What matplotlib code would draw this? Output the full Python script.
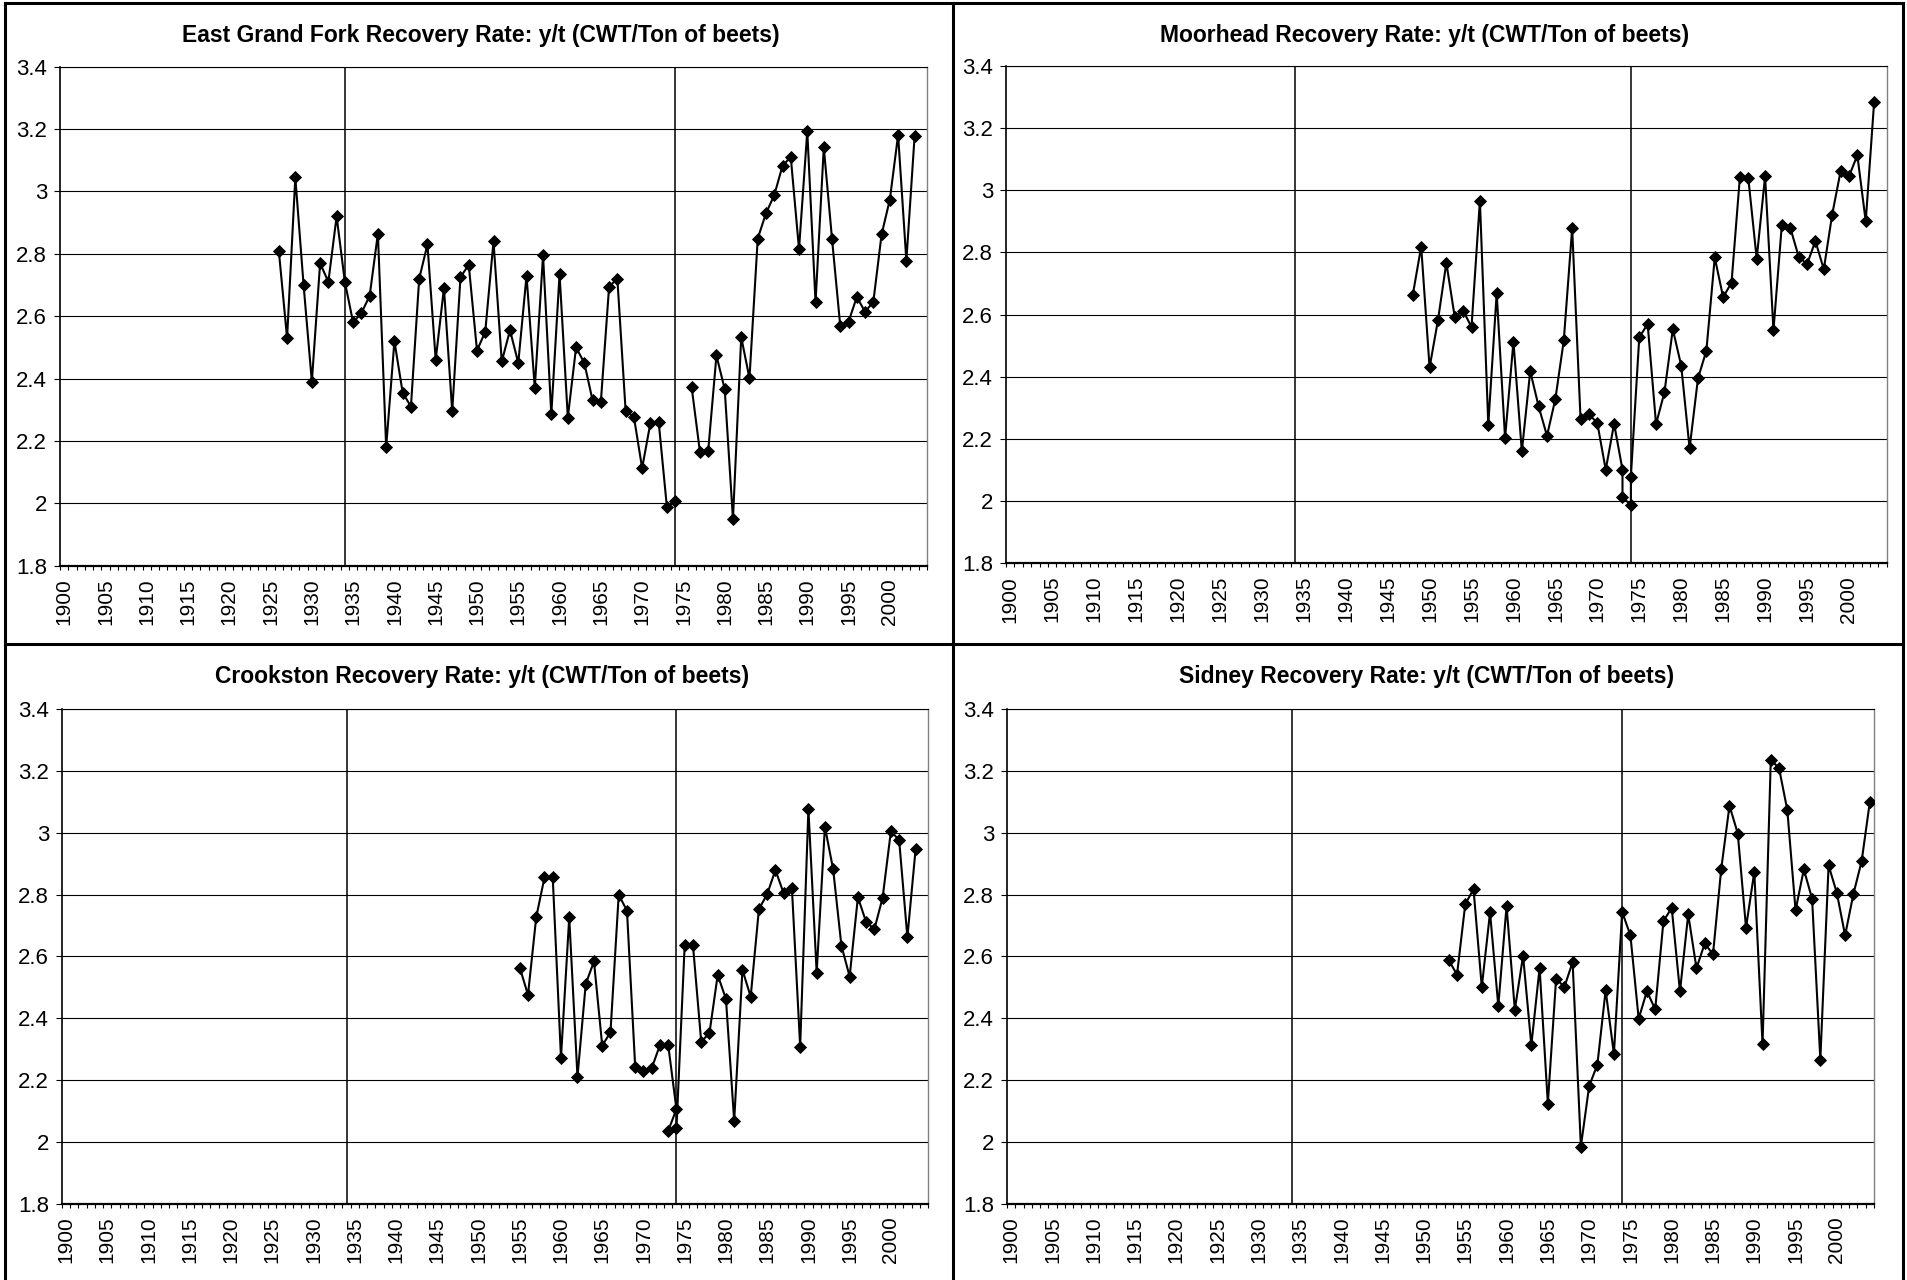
import matplotlib
matplotlib.use("Agg")
import matplotlib.pyplot as plt
from matplotlib.lines import Line2D
import numpy as np

plt.rcParams['font.family'] = ['Liberation Sans', 'DejaVu Sans']

W, H = 1907, 1280

# ---- data ----
titles = ["East Grand Fork Recovery Rate: y/t (CWT/Ton of beets)",
          "Moorhead Recovery Rate: y/t (CWT/Ton of beets)",
          "Crookston Recovery Rate: y/t (CWT/Ton of beets)",
          "Sidney Recovery Rate: y/t (CWT/Ton of beets)"]

y_ticks = [1.8, 2.0, 2.2, 2.4, 2.6, 2.8, 3.0, 3.2, 3.4]
y_tick_labels = ["1.8", "2", "2.2", "2.4", "2.6", "2.8", "3", "3.2", "3.4"]
x_label_years = list(range(1900, 2001, 5))
marker_years = [1934, 1974]

egf_years = list(range(1926, 2004))
egf_vals = [2.81, 2.53, 3.045, 2.70, 2.39, 2.77, 2.71, 2.92, 2.71, 2.58,
            2.61, 2.665, 2.865, 2.18, 2.52, 2.355, 2.31, 2.72, 2.83, 2.46,
            2.69, 2.295, 2.725, 2.765, 2.49, 2.55, 2.84, 2.455, 2.555, 2.45,
            2.73, 2.37, 2.795, 2.285, 2.735, 2.275, 2.50, 2.45, 2.33, 2.325,
            2.695, 2.72, 2.297, 2.278, 2.113, 2.257, 2.262, 1.988, 2.006, np.nan,
            2.372, 2.165, 2.168, 2.474, 2.366, 1.949, 2.533, 2.401, 2.849, 2.93,
            2.988, 3.082, 3.111, 2.815, 3.193, 2.644, 3.141, 2.847, 2.567, 2.582,
            2.662, 2.614, 2.646, 2.862, 2.974, 3.181, 2.778, 3.178]

mh_years = list(range(1948, 1973)) + [1973, 1973, 1974, 1974] + list(range(1975, 2004))
mh_vals = [2.664, 2.819, 2.43, 2.582, 2.767, 2.592, 2.613, 2.56, 2.967, 2.246,
           2.669, 2.203, 2.513, 2.16, 2.418, 2.305, 2.21, 2.329, 2.517, 2.878,
           2.264, 2.28, 2.251, 2.101, 2.249,
           2.101, 2.012, 1.988, 2.079,
           2.527, 2.57, 2.248, 2.35, 2.553, 2.436, 2.17, 2.395, 2.484, 2.784,
           2.656, 2.703, 3.044, 3.039, 2.78, 3.045, 2.55, 2.89, 2.88, 2.787,
           2.762, 2.837, 2.746, 2.922, 3.061, 3.045, 3.113, 2.90, 3.284]

crk_years = list(range(1955, 1973)) + [1973, 1974, 1973, 1974] + list(range(1975, 2004))
crk_vals = [2.564, 2.476, 2.727, 2.855, 2.855, 2.273, 2.726, 2.211, 2.511, 2.584,
            2.312, 2.355, 2.799, 2.748, 2.243, 2.23, 2.239, 2.314,
            2.314, 2.107, 2.037, 2.045,
            2.637, 2.637, 2.325, 2.352, 2.54, 2.463, 2.069, 2.557, 2.47, 2.753,
            2.801, 2.879, 2.804, 2.82, 2.309, 3.076, 2.548, 3.019, 2.881, 2.635,
            2.535, 2.791, 2.711, 2.688, 2.79, 3.004, 2.976, 2.662, 2.947]

sid_years = list(range(1953, 2005))
sid_vals = [2.588, 2.541, 2.769, 2.817, 2.501, 2.742, 2.44, 2.763, 2.428, 2.602,
            2.313, 2.563, 2.125, 2.528, 2.501, 2.582, 1.986, 2.181, 2.251, 2.491,
            2.285, 2.744, 2.668, 2.399, 2.488, 2.429, 2.714, 2.757, 2.487, 2.736,
            2.562, 2.642, 2.607, 2.883, 3.087, 2.997, 2.693, 2.873, 2.316, 3.235,
            3.208, 3.073, 2.749, 2.881, 2.787, 2.267, 2.894, 2.805, 2.668, 2.801,
            2.907, 3.10]

series = [(egf_years, egf_vals), (mh_years, mh_vals),
          (crk_years, crk_vals), (sid_years, sid_vals)]

# ---- layout (pixels, top-left origin) ----
plot_rects = [(60, 66.7, 927, 565.7),
              (1006, 66, 1886.7, 563.3),
              (62, 708.7, 928, 1204.2),
              (1007, 708.7, 1874, 1204.2)]
title_pos = [(481, 42), (1425, 42), (482, 683), (1427, 683)]


def frac_rect(l, t, r, b):
    return [l / W, 1 - b / H, (r - l) / W, (b - t) / H]


fig = plt.figure(figsize=(W / 100, H / 100), dpi=100)

for i in range(4):
    ax = fig.add_axes(frac_rect(*plot_rects[i]))
    yrs, vals = series[i]
    ax.plot(yrs, vals, color='black', lw=1.5, marker='D', ms=6.4,
            mfc='black', mec='black', mew=0.6, zorder=5)
    for xv in marker_years:
        ax.axvline(xv, color='black', lw=1.1, zorder=2)
    ax.set_xlim(1899.5, 2004.5)
    ax.set_ylim(1.8, 3.4)
    ax.set_yticks(y_ticks)
    ax.set_yticklabels(y_tick_labels, fontsize=16)
    ax.set_xticks(x_label_years)
    ax.set_xticklabels([str(y) for y in x_label_years], rotation=90, fontsize=15)
    ax.set_xticks(np.arange(1899.5, 2005, 1), minor=True)
    ax.tick_params(axis='x', which='major', length=0, pad=9)
    ax.tick_params(axis='x', which='minor', length=3.2, width=0.8, direction='out')
    ax.tick_params(axis='y', which='major', length=4.3, width=0.8, pad=5, direction='out')
    ax.grid(axis='y', color='black', lw=0.8, zorder=1)
    ax.set_axisbelow(True)
    ax.spines['left'].set_linewidth(1.2)
    ax.spines['bottom'].set_linewidth(1.6)
    ax.spines['top'].set_linewidth(0.8)
    ax.spines['right'].set_color('#808080')
    ax.spines['right'].set_linewidth(1.0)
    fig.text(title_pos[i][0] / W, 1 - title_pos[i][1] / H, titles[i],
             ha='center', va='baseline', fontsize=16.5, fontweight='bold')

# chart area borders
border_lw = 2.2
for x in [5, 953, 1903]:
    fig.add_artist(Line2D([x / W, x / W], [0, 1 - 3 / H], color='black', lw=border_lw))
for y in [3, 644]:
    fig.add_artist(Line2D([5 / W, 1903 / W], [1 - y / H, 1 - y / H], color='black', lw=border_lw))

fig.savefig('out.png', dpi=100)
